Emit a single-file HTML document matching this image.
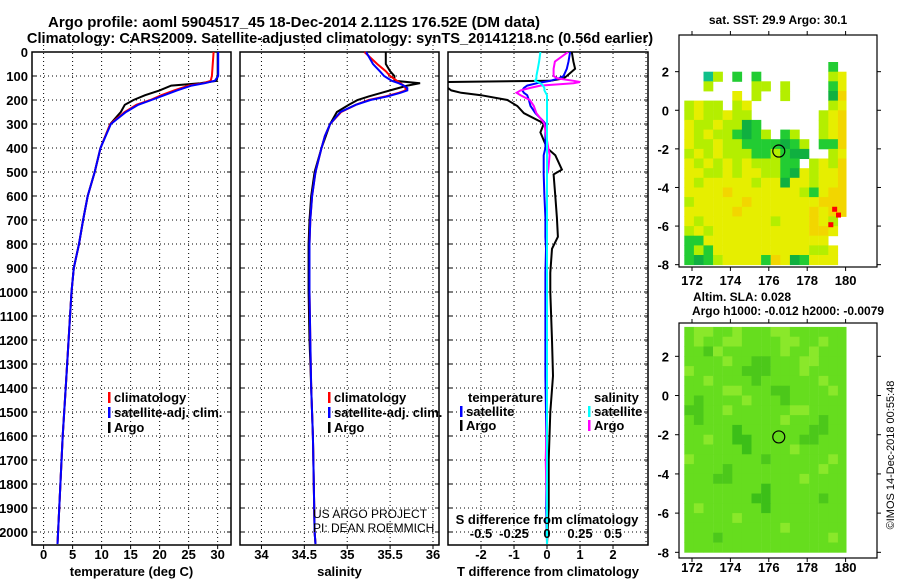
<!DOCTYPE html>
<html><head><meta charset="utf-8"><style>
body{margin:0;background:#fff}
svg{display:block;font-family:"Liberation Sans",sans-serif}
.b{font-weight:bold;font-size:13px}
</style></head><body>
<svg id="c" width="900" height="580" viewBox="0 0 900 580">
<defs>
<clipPath id="cp1"><rect x="32" y="37" width="199" height="508"/></clipPath>
<clipPath id="cp2"><rect x="240" y="37" width="199" height="508"/></clipPath>
<clipPath id="cp3"><rect x="448" y="52" width="200" height="493"/></clipPath>
</defs>
<text x="294" y="27" class="b" text-anchor="middle" style="font-size:15px">Argo profile: aoml 5904517_45 18-Dec-2014 2.112S 176.52E (DM data)</text>
<text x="340" y="43" class="b" text-anchor="middle" style="font-size:14.6px">Climatology: CARS2009. Satellite-adjusted climatology: synTS_20141218.nc (0.56d earlier)</text>
<g id="g"></g>
</svg>
<script>
const depthT=[0,100,120,130,140,160,180,200,220,250,300,400,500,600,700,800,900,1000,1200,1400,1600,1800,2000,2050];
const argoT=[30,30,29.8,27,22,20,17.5,15.5,14,13.3,11.5,9.8,8.8,7.6,6.8,6.1,5.2,4.8,4.3,3.8,3.3,2.9,2.5,2.4];
const climT=[29.3,29.0,28.8,27.5,25,22.5,20.3,18.4,16,14,11.5,9.8,8.8,7.6,6.8,6.1,5.2,4.8,4.3,3.8,3.3,2.9,2.5,2.4];
const satT=[30.1,30.1,29.5,27.8,25.5,23,20.8,18.6,16.3,14.2,11.6,9.8,8.8,7.6,6.8,6.1,5.2,4.8,4.3,3.8,3.3,2.9,2.5,2.4];
const depthS=[0,50,80,100,120,130,140,150,160,170,185,200,220,250,300,350,400,500,600,700,800,1000,1200,1400,1600,1800,2000,2050];
const argoS=[35.45,35.45,35.5,35.55,35.55,35.85,35.7,35.6,35.5,35.4,35.25,35.12,35.02,34.88,34.8,34.75,34.7,34.62,34.58,34.56,34.55,34.55,34.56,34.58,34.6,34.61,34.62,34.63];
const climS=[35.2,35.35,35.45,35.5,35.58,35.62,35.66,35.68,35.68,35.6,35.45,35.25,35.1,34.93,34.8,34.74,34.7,34.63,34.59,34.57,34.56,34.56,34.57,34.58,34.6,34.61,34.62,34.63];
const satS=[35.22,35.3,35.38,35.43,35.52,35.6,35.66,35.7,35.7,35.62,35.47,35.27,35.1,34.92,34.8,34.74,34.7,34.63,34.59,34.57,34.56,34.56,34.57,34.58,34.6,34.61,34.62,34.63];
const depthD=[0,40,70,100,110,120,125,130,140,150,160,170,180,200,225,255,290,300,335,400,430,490,510,600,690,770,820,920,1000,1200,1350,1500,1700,1900,2050];
const argoDT=[0.75,0.8,0.85,0.6,0.5,0.1,-3,-3.1,-3.1,-3,-2.9,-2.6,-2.0,-1.2,-0.9,-0.7,-0.2,-0.1,-0.2,0,0.25,0.45,0.2,0.25,0.3,0.33,0.15,0.1,0.1,0.15,0.18,0.1,0.05,0.05,0];
const satDT=[0.7,0.65,0.6,0.5,0.35,0.1,-0.1,-0.3,-0.6,-0.7,-0.75,-0.7,-0.6,-0.55,-0.5,-0.35,-0.1,-0.05,-0.05,-0.05,-0.1,-0.1,-0.1,-0.08,-0.05,-0.05,-0.03,-0.05,-0.05,-0.05,-0.05,-0.03,-0.02,-0.02,0];
const argoDS=[0.16,0.06,0.05,0.05,0.08,0.2,0.25,0.2,-0.05,-0.13,-0.2,-0.23,-0.2,-0.13,-0.1,-0.08,-0.03,-0.02,-0.01,0.01,0.02,0.01,0,0,0,0,0,0,0,0,0,0,-0.01,0,0];
const satDS=[-0.05,-0.06,-0.07,-0.08,-0.08,-0.09,-0.07,-0.05,-0.03,-0.02,-0.02,-0.01,0,0,0,0,0,0,0,0,0,0,0,0,0,0,0,0,0,0,0,0,0,0,0];
const depthTicks=[0,100,200,300,400,500,600,700,800,900,1000,1100,1200,1300,1400,1500,1600,1700,1800,1900,2000];
const tempTicks=[0,5,10,15,20,25,30];
const salTicks=[34,34.5,35,35.5,36];
const tdTicks=[-2,-1,0,1,2];
const sdTicks=[-0.5,-0.25,0,0.25,0.5];
const sdTickLabels=["-0.5","-0.25","0","0.25","0.5"];
const lonTicks=[172,174,176,178,180];
const latTicks=[2,0,-2,-4,-6,-8];
const sstRows=[
"...............g.",
"..tl.g.g.......ly",
"..l....ll.l....gy",
".....y.l..l....do",
"lyll.ly........ly",
"lyllyll.......lyo",
"yllylldg......lyo",
"ylyllgdgl.gl..lyo",
"yllyllggggdgl.ggo",
"lylylllgglgdd..ly",
"ylylylylllgg.lylo",
"yyllylyyllgdylyyo",
"ylyyyyylyydyylyyo",
"yyyyoyyyyyyylgyoo",
"lyyyyyoyyyyyyyooo",
"yyyyyoyyyyyyyoyoo",
"ylyyyyyyylyyyoyl.",
"lylyyyyyyyyyyooy.",
"ggyyyyyyyyyyyyy..",
"glgyyyyyyyyyylly.",
"gdglyyyygoydgyyy."];
const sstTop=2.5;
const slaRows=[
"accaacaaaccaaaaaa",
"acaaccaaaaccaacaa",
"aabcaaaaaacaacaaa",
"aaaacaabbaaaccaaa",
"caaaaabbbaaacaaaa",
"aacaaaabaaaaaacaa",
"aaaaccaaabbaaaaca",
"abaaaacaaabaaaaaa",
"bbaacaaaaaaccaaaa",
"abaaaaaaaacaaabaa",
"aaaaaeaaaaaaabbaa",
"aacaaeeaaaaabbaaa",
"aaaaaaeaaaacaaaaa",
"caaaaaaabaaaaaaca",
"aaaabaaaaaaaaacaa",
"aaabbaaaaaaacaaaa",
"aaaaaaaaeaaaaaaaa",
"aaaaaaaeeaaaaabaa",
"acaaaaaaeaaaaaaaa",
"aaaaacaaaaaaaaaaa",
"aaaaaaaaaacaaaaaa",
"aaabaaaaaaaaaaaca",
"aaaaaaaaaaaaaaaaa"];
const slaTop=3.5;

const NS='http://www.w3.org/2000/svg';
const G=document.getElementById('g');
function mk(t,a,p){const e=document.createElementNS(NS,t);for(const k in a)e.setAttribute(k,a[k]);(p||G).appendChild(e);return e;}
function txt(x,y,s,anchor,name,extra){const e=mk('text',Object.assign({x:x,y:y,'text-anchor':anchor||'middle',class:'b'},extra||{}));e.textContent=s;


return e;}
const y0=52,ppm=0.24;const yD=d=>y0+d*ppm;
function panel(x0,x1,xmin,xmax,ticks,labels,title,name,gridTicks){
  const sx=v=>x0+(v-xmin)/(xmax-xmin)*(x1-x0);
  const g=mk('g',{});
  
  
  (gridTicks||ticks).forEach(t=>{mk('line',{x1:sx(t),x2:sx(t),y1:37,y2:545,stroke:'#000','stroke-width':1,'stroke-dasharray':'1,3'},g);});
  depthTicks.forEach(d=>{if(d>0)mk('line',{x1:x0,x2:x1,y1:yD(d),y2:yD(d),stroke:'#000','stroke-width':1,'stroke-dasharray':'1,3'},g);
    mk('line',{x1:x0,x2:x0+4,y1:yD(d),y2:yD(d),stroke:'#000'},g);mk('line',{x1:x1-4,x2:x1,y1:yD(d),y2:yD(d),stroke:'#000'},g);});
  mk('rect',{x:x0,y:52,width:x1-x0,height:493,fill:'none',stroke:'#000','stroke-width':1.5},g);
  ticks.forEach((t,i)=>{mk('line',{x1:sx(t),x2:sx(t),y1:545,y2:549,stroke:'#000'},g);
    txt(sx(t),559,labels?labels[i]:String(t),'middle','x-tick-label');});
  txt((x0+x1)/2,576,title,'middle','x-axis-title');
  return sx;
}
function line(xs,ds,sx,col,clip,name,w){
  const pts=xs.map((v,i)=>sx(v).toFixed(1)+','+yD(ds[i]).toFixed(1)).join(' ');
  const e=mk('polyline',{points:pts,fill:'none',stroke:col,'stroke-width':w||2,'clip-path':'url(#'+clip+')'});
  
  
}
depthTicks.forEach(d=>txt(28,yD(d)+5,String(d),'end','y-tick-label'));
const s1=panel(32,231,-2,32.3,tempTicks,null,'temperature (deg C)','temperature-panel');
line(argoT,depthT,s1,'#000','cp1','argo-temperature-line');
line(climT,depthT,s1,'#f00','cp1','climatology-temperature-line');
line(satT,depthT,s1,'#00f','cp1','satellite-temperature-line');
const s2=panel(240,439,33.75,36.07,salTicks,null,'salinity','salinity-panel');
line(argoS,depthS,s2,'#000','cp2','argo-salinity-line');
line(climS,depthS,s2,'#f00','cp2','climatology-salinity-line');
line(satS,depthS,s2,'#00f','cp2','satellite-salinity-line');
const s3=panel(448,648,-3,3.06,tdTicks,null,'T difference from climatology','difference-panel',[-2,-1,0,1,2,3]);
const s3s=v=>547+v*132;
line(argoDT,depthD,s3,'#000','cp3','argo-t-difference-line');
line(satDT,depthD,s3,'#00f','cp3','satellite-t-difference-line');
line(argoDS,depthD,s3s,'#f0f','cp3','argo-s-difference-line');
line(satDS,depthD,s3s,'#0ff','cp3','satellite-s-difference-line');
txt(547,524,'S difference from climatology','middle','s-difference-axis-title');
sdTicks.forEach((t,i)=>txt(s3s(t),538,sdTickLabels[i],'middle','s-difference-tick-label'));
function leg(x,y,col,label,name){mk('rect',{x:x,y:y-10,width:2.5,height:11,fill:col});txt(x+6,y,label,'start',name);}
leg(108,402,'#f00','climatology','legend-climatology');
leg(108,417,'#00f','satellite-adj. clim.','legend-satellite-adj');
leg(108,432,'#000','Argo','legend-argo');
leg(328,402,'#f00','climatology','legend-climatology-2');
leg(328,417,'#00f','satellite-adj. clim.','legend-satellite-adj-2');
leg(328,432,'#000','Argo','legend-argo-2');
txt(468,402,'temperature','start','legend-temperature-heading');
leg(460,416,'#00f','satellite','legend-t-satellite');
leg(460,430,'#000','Argo','legend-t-argo');
txt(594,402,'salinity','start','legend-salinity-heading');
leg(588,416,'#0ff','satellite','legend-s-satellite');
leg(588,430,'#f0f','Argo','legend-s-argo');
txt(313,518,'US ARGO PROJECT','start','project-credit',{class:'',style:'font-size:12px'});
txt(313,532,'PI: DEAN ROEMMICH','start','pi-credit',{class:'',style:'font-size:12px'});
const cols={y:'#e6ee00',o:'#f2d600',l:'#b4ee00',g:'#22cc33',d:'#10b040',t:'#10c08a',r:'#ff0000',a:'#66dd1e',b:'#4cc81a',c:'#8ae82a',e:'#3cbf18'};
function map(top,bot,latTopAx,pxDeg,rows,rowTop,name,labY,marks){
  const lx=v=>692+(v-172)*19.2;const ly=v=>top+(latTopAx-v)*pxDeg;
  const g=mk('g',{});
  
  
  rows.forEach((r,ri)=>{for(let ci=0;ci<Math.min(r.length,17);ci++){const ch=r[ci];if(ch==='.')continue;
    const la=rowTop-ri*0.5,lo=171.6+ci*0.5;
    mk('rect',{x:lx(lo).toFixed(1),y:ly(la).toFixed(1),width:Math.min(9.8,lx(180.05)-lx(lo)).toFixed(1),height:(pxDeg*0.5+0.4).toFixed(1),fill:cols[ch]},g);}});
  (marks||[]).forEach(m=>mk('rect',{x:lx(m[0]),y:ly(m[1]),width:5,height:5,fill:'#f00'},g));
  mk('circle',{cx:lx(176.52),cy:ly(-2.112),r:6,fill:'none',stroke:'#000','stroke-width':1.2},g);
  mk('rect',{x:679,y:top,width:198,height:bot-top,fill:'none',stroke:'#000','stroke-width':1.2},g);
  lonTicks.forEach(t=>{mk('line',{x1:lx(t),x2:lx(t),y1:bot,y2:bot+4,stroke:'#000'},g);mk('line',{x1:lx(t),x2:lx(t),y1:top-4,y2:top,stroke:'#000'},g);txt(lx(t),labY,String(t),'middle','map-lon-label');});
  latTicks.forEach(t=>{mk('line',{x1:675,x2:679,y1:ly(t),y2:ly(t),stroke:'#000'},g);mk('line',{x1:877,x2:881,y1:ly(t),y2:ly(t),stroke:'#000'},g);txt(669,ly(t)+5,String(t),'end','map-lat-label');});
  return g;
}
const redCells=[[179.3,-5],[179.5,-5.3],[179.1,-5.8]];
txt(778,24,'sat. SST: 29.9 Argo: 30.1','middle','sst-map-title',{style:'font-size:12px'});
map(35,267,3.9,19.3,sstRows,sstTop,'sst-map',285,redCells);
txt(742,301,'Altim. SLA: 0.028','middle','sla-map-title',{style:'font-size:12px'});
txt(788,315,'Argo h1000: -0.012 h2000: -0.0079','middle','sla-map-subtitle',{style:'font-size:12px'});
map(323,558,3.7,19.6,slaRows,slaTop,'sla-map',572);
txt(0,0,'©IMOS 14-Dec-2018 00:55:48','middle','timestamp-credit',{class:'',style:'font-size:11px',transform:'translate(894,455) rotate(-90)'});
</script>
</body></html>
